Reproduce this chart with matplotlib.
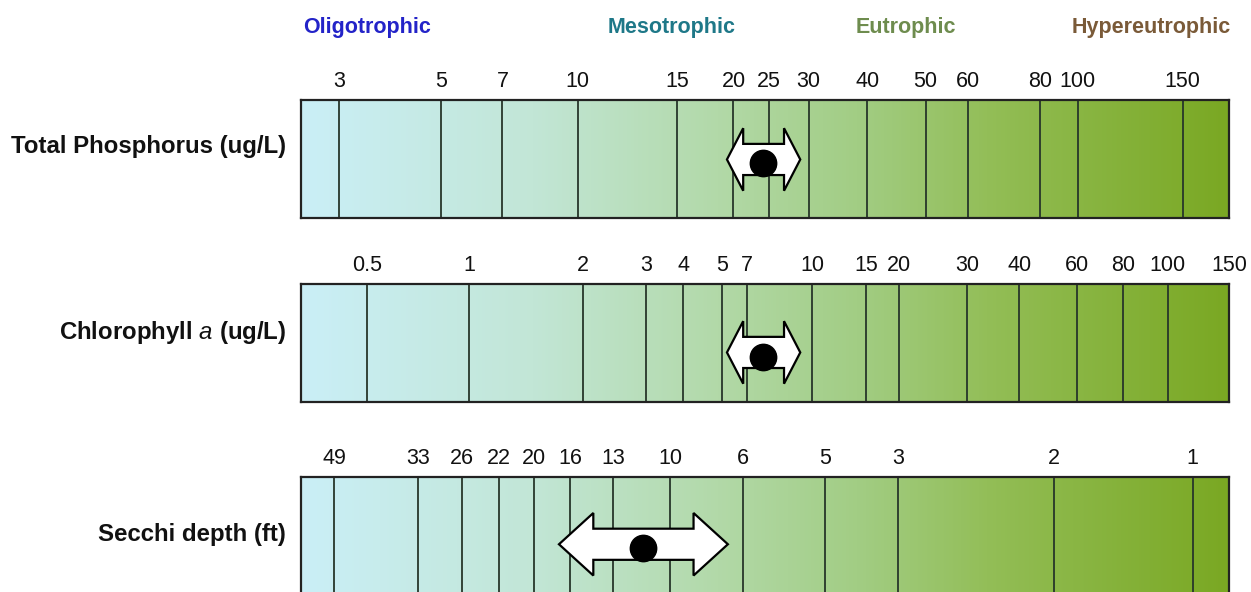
#!/usr/bin/env python3
"""
Trophic state scale: TP, chlorophyll a and Secchi depth bars with observed ranges
"""
import matplotlib
matplotlib.use('Agg')
import matplotlib.pyplot as plt
import matplotlib.transforms as mtransforms
from matplotlib.colors import LinearSegmentedColormap
from matplotlib.patches import Polygon
import numpy as np

plt.rcParams['font.family'] = ['Liberation Sans', 'DejaVu Sans']
plt.rcParams['mathtext.fontset'] = 'custom'
plt.rcParams['mathtext.it'] = 'Liberation Sans:italic'
plt.rcParams['mathtext.rm'] = 'Liberation Sans'

# trophic classes and where their names sit along the scale (0-100 = bar width)
trophic_names = ['Oligotrophic', 'Mesotrophic', 'Eutrophic', 'Hypereutrophic']
trophic_pos = [7.1, 39.9, 65.2, 91.6]
trophic_colors = ['#2323c8', '#1e7888', '#6e8c4e', '#7a5a38']

# Total phosphorus (ug/L)
tp_labels = ['3', '5', '7', '10', '15', '20', '25', '30', '40', '50', '60', '80', '100', '150']
tp_pos = [4.1, 15.1, 21.7, 29.8, 40.5, 46.6, 50.4, 54.7, 61.0, 67.3, 71.9, 79.6, 83.7, 95.0]

# Chlorophyll a (ug/L)
chl_labels = ['0.5', '1', '2', '3', '4', '5', '7', '10', '15', '20', '30', '40', '60', '80', '100', '150']
chl_pos = [7.1, 18.1, 30.4, 37.2, 41.2, 45.4, 48.1, 55.1, 60.9, 64.4, 71.8, 77.4, 83.6, 88.6, 93.4, 100.0]

# Secchi depth (ft)
sd_labels = ['49', '33', '26', '22', '20', '16', '13', '10', '6', '5', '3', '2', '1']
sd_pos = [3.6, 12.6, 17.3, 21.3, 25.1, 29.0, 33.6, 39.8, 47.6, 56.5, 64.3, 81.1, 96.1]

# observed range (low, high) and mean for each parameter, in scale units
range_low = [45.9, 45.9, 27.8]
range_high = [53.8, 53.8, 46.0]
range_mean = [49.8, 49.8, 36.9]

row_names = ['Total Phosphorus (ug/L)', 'Chlorophyll $a$ (ug/L)', 'Secchi depth (ft)']

W, H = 1251, 592
fig = plt.figure(figsize=(W / 100, H / 100), dpi=100)
fig.patch.set_facecolor('white')

cmap = LinearSegmentedColormap.from_list('trophic', [
    (0.00, '#caeff7'),
    (0.25, '#c2e6d6'),
    (0.45, '#b2d9a8'),
    (0.60, '#a2cd84'),
    (0.75, '#92bd55'),
    (1.00, '#7aa823'),
])
gradient = np.linspace(0, 1, 512).reshape(1, -1)

# pixel layout of the bars: (top, bottom)
bar_px = [(100, 218), (284, 402), (477, 595)]
bar_left, bar_right = 301, 1229
label_y_px = [147, 333, 535]
arrow_yc = [0.496, 0.42, 0.43]
dot_y = [0.466, 0.38, 0.40]
head_len = [1.75, 1.75, 3.7]

rows = [(tp_pos, tp_labels), (chl_pos, chl_labels), (sd_pos, sd_labels)]
axes = []
for i, (pos, labs) in enumerate(rows):
    top, bot = bar_px[i]
    ax = fig.add_axes([bar_left / W, 1 - bot / H, (bar_right - bar_left) / W, (bot - top) / H])
    axes.append(ax)
    ax.imshow(gradient, extent=[0, 100, 0, 1], aspect='auto', cmap=cmap, interpolation='bicubic')
    ax.set_xlim(0, 100)
    ax.set_ylim(0, 1)
    for p in pos:
        if p < 100:
            ax.axvline(p, color='#27362a', linewidth=1.3)
    for s in ax.spines.values():
        s.set_color('#222222')
        s.set_linewidth(1.6)
    ax.set_yticks([])
    ax.set_xticks(pos, labs)
    ax.xaxis.tick_top()
    ax.tick_params(axis='x', length=0, pad=6, labelsize=15.5, colors='#111111')

    # observed range as a double block arrow with mean dot
    trans = mtransforms.blended_transform_factory(ax.transData, ax.transAxes)
    x0, x1, yc, hl = range_low[i], range_high[i], arrow_yc[i], head_len[i]
    sh, hh = 0.132, 0.265
    verts = [(x0, yc), (x0 + hl, yc + hh), (x0 + hl, yc + sh), (x1 - hl, yc + sh),
             (x1 - hl, yc + hh), (x1, yc), (x1 - hl, yc - hh), (x1 - hl, yc - sh),
             (x0 + hl, yc - sh), (x0 + hl, yc - hh)]
    ax.add_patch(Polygon(verts, closed=True, facecolor='white', edgecolor='black',
                         linewidth=1.6, transform=trans, zorder=5))
    ax.plot([range_mean[i]], [dot_y[i]], 'o', color='black', markersize=19,
            transform=trans, zorder=6)

    fig.text(286 / W, 1 - label_y_px[i] / H, row_names[i], ha='right', va='center',
             fontsize=17.3, fontweight='bold', color='#111111')

# trophic class headers
htrans = mtransforms.blended_transform_factory(axes[0].transData, fig.transFigure)
for name, p, c in zip(trophic_names, trophic_pos, trophic_colors):
    axes[0].text(p, 1 - 27 / H, name, transform=htrans, ha='center', va='center',
                 fontsize=15.5, fontweight='bold', color=c)

plt.savefig('out.png', dpi=100, facecolor='white')
